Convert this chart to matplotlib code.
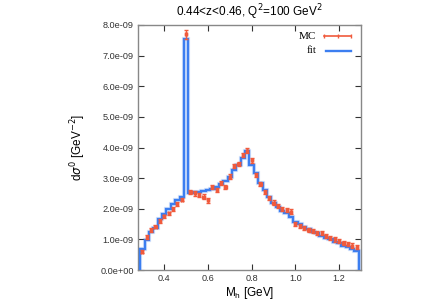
import numpy as np
import matplotlib
matplotlib.use("Agg")
import matplotlib.pyplot as plt
from matplotlib.lines import Line2D

# ---- data (units of 1e-9 GeV^-2) ----
bin_edges_lo = 0.29
bin_width = 0.02
fit_vals = [0.69, 0.98, 1.23, 1.38, 1.66, 1.82, 1.98, 2.15, 2.29, 2.40,
            7.55, 2.53, 2.54, 2.56, 2.58, 2.62, 2.66, 2.72, 2.80, 2.90,
            3.05, 3.25, 3.42, 3.65, 3.87,
            3.43, 3.16, 2.85, 2.61, 2.37, 2.18, 2.05, 1.93, 1.85, 1.72,
            1.58, 1.50, 1.39, 1.33, 1.25, 1.20, 1.11, 1.06, 1.00, 0.93,
            0.87, 0.80, 0.76, 0.70, 0.63]
mc_vals = [0.60, 1.07, 1.30, 1.42, 1.60, 1.75, 1.85, 2.00, 2.15, 2.30,
           7.70, 2.55, 2.50, 2.45, 2.40, 2.27, 2.70, 2.62, 2.85, 2.72,
           3.05, 3.40, 3.45, 3.75, 3.90,
           3.58, 3.10, 2.80, 2.55, 2.35, 2.20, 2.10, 2.00, 1.95, 1.91,
           1.50, 1.43, 1.38, 1.31, 1.27, 1.22, 1.20, 1.12, 1.05, 1.00,
           0.95, 0.88, 0.85, 0.80, 0.76]
mc_err = [0.06] * 10 + [0.15] + [0.07] * 39

scale = 1e-9
n = len(fit_vals)
edges = bin_edges_lo + bin_width * np.arange(n + 1)
centers = 0.5 * (edges[:-1] + edges[1:])
fit = np.array(fit_vals) * scale
mc = np.array(mc_vals) * scale
mcerr = np.array(mc_err) * scale

red = '#f05a3c'
blue = '#3c7ef0'

fig = plt.figure(figsize=(4.47, 3.04), dpi=100)
ax = fig.add_axes([0.3087, 0.1118, 0.4989, 0.806])

ax.stairs(fit, edges, baseline=0, color=blue, lw=3.0, alpha=0.2, zorder=2)
ax.stairs(fit, edges, baseline=0, color=blue, lw=1.7, zorder=3)
ax.errorbar(centers, mc, yerr=mcerr, xerr=0.005, fmt='s', ms=1.6,
            color=red, ecolor=red, elinewidth=1.0, capsize=1.5,
            capthick=1.0, zorder=4)

ax.set_xlim(0.28, 1.30)
ax.set_ylim(0, 8e-9)
ax.set_xticks([0.4, 0.6, 0.8, 1.0, 1.2])
ax.set_xticklabels(['0.4', '0.6', '0.8', '1.0', '1.2'])
yt = np.arange(0, 9) * 1e-9
ax.set_yticks(yt)
ax.set_yticklabels(['%.1e' % v for v in yt])

ax.tick_params(direction='in', length=4, width=0.8, top=True, right=True,
               labelsize=6.6, color='#333333', labelcolor='#333333', pad=3)
for s in ax.spines.values():
    s.set_color('#888888')
    s.set_linewidth(1.0)

font = ['Liberation Sans', 'DejaVu Sans']
for lab in ax.get_xticklabels() + ax.get_yticklabels():
    lab.set_family(font)

ax.set_title('0.44<z<0.46, Q$^2$=100 GeV$^2$', fontsize=8.5, family=font,
             pad=6)
ax.set_xlabel('M$_\\mathregular{h}$ [GeV]', fontsize=8.5, family=font, labelpad=1)
ax.set_ylabel('d$\\sigma^0$ [GeV$^{-2}$]', fontsize=8.5, family=font, labelpad=9)

# legend (gnuplot style)
ax.text(0.80, 0.955, 'MC', transform=ax.transAxes, ha='right', va='center',
        family='Liberation Serif', fontsize=8)
ax.text(0.80, 0.895, 'fit', transform=ax.transAxes, ha='right', va='center',
        family='Liberation Serif', fontsize=8)
ax.add_line(Line2D([0.835, 0.955], [0.955, 0.955], transform=ax.transAxes,
                   color=red, lw=1.2))
ax.add_line(Line2D([0.835, 0.895, 0.955], [0.955, 0.955, 0.955],
                   transform=ax.transAxes, color=red, lw=0, marker='|',
                   ms=3, mew=1.0))
ax.add_line(Line2D([0.845, 0.955], [0.895, 0.895], transform=ax.transAxes,
                   color=blue, lw=1.7))

fig.savefig('out.png', dpi=100)
